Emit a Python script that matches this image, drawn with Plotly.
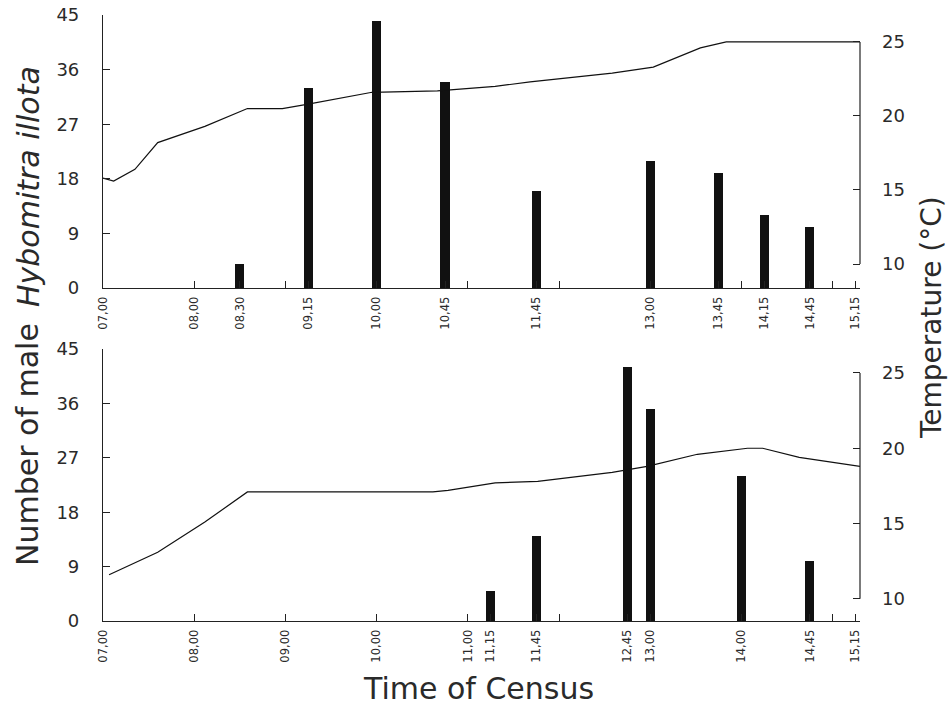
import plotly.graph_objects as go

# ---------------- data ----------------
# Upper panel
top_census_times = ["08:30", "09:15", "10:00", "10:45", "11:45", "13:00", "13:45", "14:15", "14:45"]
top_counts = [4, 33, 44, 34, 16, 21, 19, 12, 10]
top_temp_times = ["07:00", "07:07", "07:21", "07:36", "08:07", "08:35", "08:58", "09:15", "09:57",
                  "10:40", "11:18", "11:41", "12:35", "13:02", "13:33", "13:50", "15:18"]
top_temps = [15.8, 15.6, 16.4, 18.2, 19.3, 20.5, 20.5, 20.8, 21.6,
             21.7, 22.0, 22.3, 22.9, 23.3, 24.6, 25.0, 25.0]
top_tick_times = ["07:00", "08:00", "08:30", "09:15", "10:00", "10:45", "11:45", "13:00", "13:45", "14:15", "14:45", "15:15"]

# Lower panel
bot_census_times = ["11:15", "11:45", "12:45", "13:00", "14:00", "14:45"]
bot_counts = [5, 14, 42, 35, 24, 10]
bot_temp_times = ["07:04", "07:36", "08:07", "08:35", "10:37", "10:47", "11:18", "11:46",
                  "12:35", "12:58", "13:31", "14:04", "14:14", "14:38", "15:18"]
bot_temps = [11.6, 13.1, 15.1, 17.1, 17.1, 17.2, 17.7, 17.8,
             18.4, 18.8, 19.6, 20.0, 20.0, 19.4, 18.8]
bot_tick_times = ["07:00", "08:00", "09:00", "10:00", "11:00", "11:15", "11:45", "12:45", "13:00", "14:00", "14:45", "15:15"]

hour_ticks = ["08:00", "09:00", "10:00", "11:00", "12:00", "13:00", "14:00", "15:00"]
count_ticks = [0, 9, 18, 27, 36, 45]
temp_ticks = [10, 15, 20, 25]


def hrs(s):
    h, m = s.split(":")
    return int(h) + int(m) / 60.0


def lab(s):
    return s.replace(":", ",")


W, H = 951, 708
FONT = "DejaVu Sans"
TXT = "#2a2a2a"
x_dom = [103 / W, 860 / W]
top_dom = [1 - 288 / H, 1 - 15 / H]
bot_dom = [1 - 621 / H, 1 - 349 / H]
x_range = [7.0, 15.3]
top_t_range = [8.38, 26.82]
bot_t_range = [8.53, 26.59]

fig = go.Figure()

fig.add_trace(go.Bar(x=[hrs(t) for t in top_census_times], y=top_counts, width=0.1,
                     marker=dict(color="#111111", line=dict(width=0)), xaxis="x", yaxis="y",
                     showlegend=False))
fig.add_trace(go.Scatter(x=[hrs(t) for t in top_temp_times], y=top_temps, mode="lines",
                         line=dict(color="#111111", width=1.2), xaxis="x", yaxis="y2",
                         showlegend=False))
fig.add_trace(go.Bar(x=[hrs(t) for t in bot_census_times], y=bot_counts, width=0.1,
                     marker=dict(color="#111111", line=dict(width=0)), xaxis="x2", yaxis="y3",
                     showlegend=False))
fig.add_trace(go.Scatter(x=[hrs(t) for t in bot_temp_times], y=bot_temps, mode="lines",
                         line=dict(color="#111111", width=1.2), xaxis="x2", yaxis="y4",
                         showlegend=False))


def xaxis(anchor, ticks_list):
    return dict(domain=x_dom, anchor=anchor, range=x_range, showgrid=False, zeroline=False,
                automargin=False,
                showline=True, linecolor="#222", linewidth=1.2,
                tickmode="array", tickvals=[hrs(t) for t in ticks_list],
                ticktext=[lab(t) for t in ticks_list], tickangle=-90,
                ticks="inside", ticklen=7, tickcolor="#222", tickwidth=1.2,
                ticklabelstandoff=3,
                tickfont=dict(family=FONT, size=11.5, color=TXT),
                minor=dict(tickmode="array", tickvals=[hrs(t) for t in hour_ticks],
                           ticks="inside", ticklen=7, tickcolor="#222", tickwidth=1.2,
                           showgrid=False))


def countaxis(dom, anchor):
    return dict(domain=dom, anchor=anchor, range=[0, 45], showgrid=False, zeroline=False,
                automargin=False,
                showline=True, linecolor="#222", linewidth=1.2,
                tickmode="array", tickvals=count_ticks, ticks="inside", ticklen=7,
                tickcolor="#222", tickwidth=1.2, ticklabelstandoff=19,
                tickfont=dict(family=FONT, size=18, color=TXT))


def tempaxis(over, rng, anchor):
    return dict(overlaying=over, side="right", anchor=anchor, range=rng, showgrid=False,
                automargin=False,
                zeroline=False, showline=False, tickmode="array", tickvals=temp_ticks,
                ticks="inside", ticklen=7, tickcolor="#222", tickwidth=1.2,
                ticklabelstandoff=21, tickfont=dict(family=FONT, size=18, color=TXT))


fig.update_layout(
    width=W, height=H, margin=dict(l=0, r=0, t=0, b=0, autoexpand=False),
    paper_bgcolor="white", plot_bgcolor="white", bargap=0,
    xaxis=xaxis("y", top_tick_times),
    yaxis=countaxis(top_dom, "x"),
    yaxis2=tempaxis("y", top_t_range, "x"),
    xaxis2=xaxis("y3", bot_tick_times),
    yaxis3=countaxis(bot_dom, "x2"),
    yaxis4=tempaxis("y3", bot_t_range, "x2"),
)

# right-hand temperature axis lines (only over the labelled span)
for yref in ["y2", "y4"]:
    fig.add_shape(type="line", xref="paper", yref=yref, x0=x_dom[1], x1=x_dom[1],
                  y0=min(temp_ticks), y1=max(temp_ticks), line=dict(color="#222", width=1.2))

fig.add_annotation(text="Number of male", xref="paper", yref="paper",
                   x=28 / W, y=1 - 445 / H, xanchor="center", yanchor="middle",
                   textangle=-90, showarrow=False,
                   font=dict(family=FONT, size=30, color=TXT))
fig.add_annotation(text="<i>Hybomitra illota</i>", xref="paper", yref="paper",
                   x=28 / W, y=1 - 187 / H, xanchor="center", yanchor="middle",
                   textangle=-90, showarrow=False,
                   font=dict(family=FONT, size=30, color=TXT))
fig.add_annotation(text="Temperature (°C)", xref="paper", yref="paper",
                   x=931 / W, y=1 - 318 / H, xanchor="center", yanchor="middle",
                   textangle=-90, showarrow=False,
                   font=dict(family=FONT, size=28, color=TXT))
fig.add_annotation(text="Time of Census", xref="paper", yref="paper",
                   x=478 / W, y=1 - 688 / H, xanchor="center", yanchor="middle",
                   showarrow=False,
                   font=dict(family=FONT, size=30, color=TXT))

fig.write_html("out.html")
